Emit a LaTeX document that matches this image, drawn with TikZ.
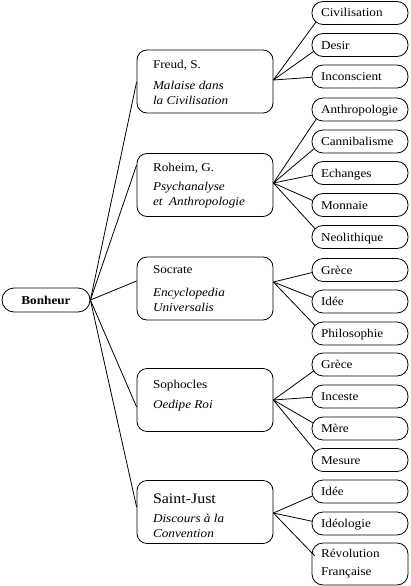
\documentclass[tikz,border=0pt]{standalone}
\usepackage{fontspec}
\setmainfont{Liberation Serif}[FakeStretch=1.1]
\begin{document}
\begin{tikzpicture}[x=1pt,y=1pt,line width=0.8pt,
  every node/.style={font=\fontsize{12}{15}\selectfont},
  rootbox/.style={draw,rounded corners=12pt,minimum width=88pt,minimum height=24pt,inner sep=0pt,font=\fontsize{12}{15}\selectfont\bfseries},
  midbox/.style={draw,rounded corners=10pt,minimum width=136pt,minimum height=63pt,inner xsep=16pt,inner ysep=0pt},
  leafbox/.style={draw,rounded corners=11pt,minimum width=96pt,minimum height=23pt,inner xsep=9pt,inner ysep=0pt,text width=78pt,align=left,text height=8.5pt,text depth=0.5pt},
  leaftall/.style={draw,rounded corners=11pt,minimum width=96pt,minimum height=42pt,inner xsep=9pt,inner ysep=0pt,text width=78pt,align=left},
  link/.style={draw,line width=0.8pt},
  leaflink/.style={draw,line width=0.8pt,shorten >=11pt}]
\useasboundingbox (0,0) rectangle (410,-586);

\node[rootbox] (root) at (46,-300) {Bonheur};

\newcommand{\midtext}[1]{\parbox[c][63pt][t]{104pt}{\raggedright #1}}

\node[midbox] (freud) at (205,-81.5) {\midtext{\rule{0pt}{18pt}Freud, S.\\[6pt]\textit{Malaise dans}\\\textit{la Civilisation}}};
\node[midbox] (roheim) at (205,-185) {\midtext{\rule{0pt}{18pt}Roheim, G.\\[4pt]\textit{Psychanalyse}\\\textit{et\ \ Anthropologie}}};
\node[midbox] (socrate) at (205,-288.5) {\midtext{\rule{0pt}{16pt}Socrate\\[8pt]\textit{Encyclopedia}\\\textit{Universalis}}};
\node[midbox] (sophocles) at (205,-400) {\midtext{\rule{0pt}{20pt}Sophocles\\[5pt]\textit{Oedipe Roi}}};
\node[midbox] (saintjust) at (205,-512) {\midtext{\rule{0pt}{23pt}{\fontsize{14.5}{15}\selectfont Saint-Just}\\[4pt]\textit{Discours à la}\\\textit{Convention}}};

\node[leafbox] (civ) at (360,-13) {Civilisation};
\node[leafbox] (desir) at (360,-45) {Desir};
\node[leafbox] (incons) at (360,-76.5) {Inconscient};

\node[leafbox] (anthro) at (360,-109.5) {Anthropologie};
\node[leafbox] (canni) at (360,-141.5) {Cannibalisme};
\node[leafbox] (echang) at (360,-173) {Echanges};
\node[leafbox] (monnaie) at (360,-205) {Monnaie};
\node[leafbox] (neol) at (360,-237) {Neolithique};

\node[leafbox] (grecea) at (360,-270) {Grèce};
\node[leafbox] (ideea) at (360,-301.5) {Idée};
\node[leafbox] (philo) at (360,-333.5) {Philosophie};

\node[leafbox] (greceb) at (360,-364.5) {Grèce};
\node[leafbox] (inceste) at (360,-396.5) {Inceste};
\node[leafbox] (mere) at (360,-428.5) {Mère};
\node[leafbox] (mesure) at (360,-460) {Mesure};

\node[leafbox] (ideeb) at (360,-491.5) {Idée};
\node[leafbox] (ideol) at (360,-523.5) {Idéologie};
\node[leaftall] (revol) at (360,-564) {Révolution\\[3pt]Française};

% root connectors
\draw[link] (root.east) -- ([yshift=-0.5pt]freud.west);
\draw[link] (root.east) -- ([yshift=20pt]roheim.west);
\draw[link] (root.east) -- ([yshift=7.5pt]socrate.west);
\draw[link] (root.east) -- ([yshift=-7pt]sophocles.west);
\draw[link] (root.east) -- ([yshift=5pt]saintjust.west);

% leaf connectors
\coordinate (fr) at ([yshift=1.5pt]freud.east);
\coordinate (ro) at ([yshift=2pt]roheim.east);
\coordinate (so) at ([yshift=6.5pt]socrate.east);
\coordinate (sp) at (sophocles.east);
\coordinate (sj) at ([yshift=-1pt]saintjust.east);

\foreach \t in {civ,desir,incons} \draw[leaflink] (fr) -- ([xshift=11pt]\t.west);
\foreach \t in {anthro,canni,echang,monnaie,neol} \draw[leaflink] (ro) -- ([xshift=11pt]\t.west);
\foreach \t in {grecea,ideea,philo} \draw[leaflink] (so) -- ([xshift=11pt]\t.west);
\foreach \t in {greceb,inceste,mere,mesure} \draw[leaflink] (sp) -- ([xshift=11pt]\t.west);
\foreach \t in {ideeb,ideol,revol} \draw[leaflink] (sj) -- ([xshift=11pt]\t.west);
\end{tikzpicture}
\end{document}
